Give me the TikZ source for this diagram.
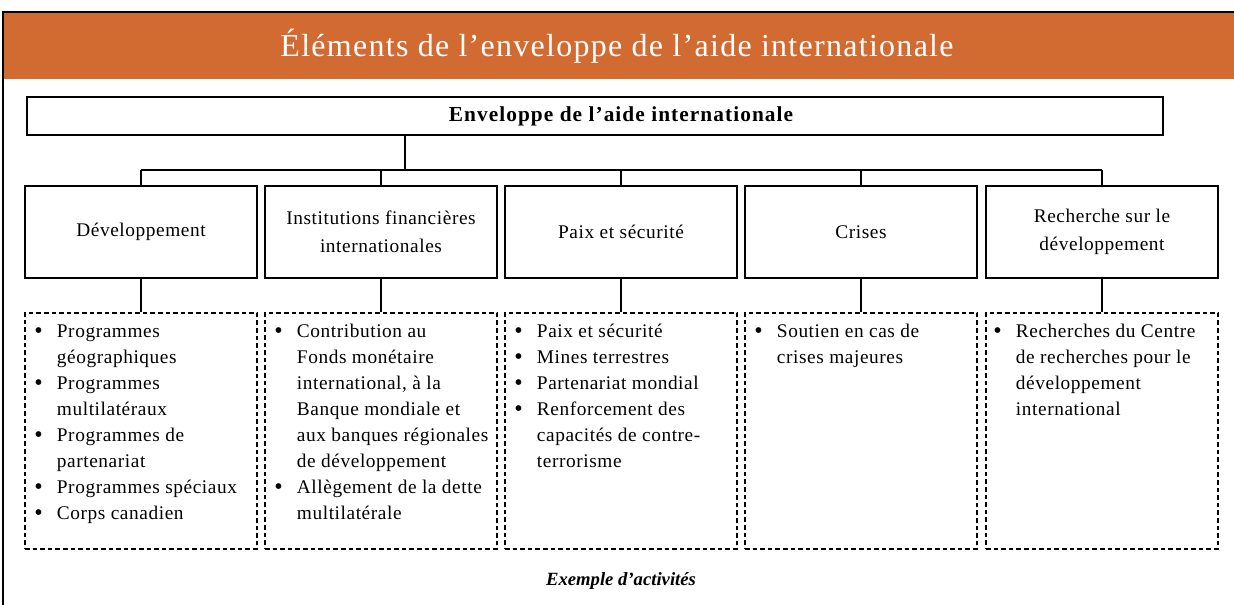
\documentclass[tikz,border=0pt]{standalone}
\usepackage{fontspec}
\setmainfont{Liberation Serif}
\newfontfamily\fcat[LetterSpace=3]{Liberation Serif}
\newfontfamily\ftop[LetterSpace=5]{Liberation Serif}
\newfontfamily\ftitle[LetterSpace=4]{Liberation Serif}
\definecolor{bannerorange}{RGB}{210,107,50}
\newcommand\bl{\raisebox{-0.8pt}{\fontsize{18}{19.5}\selectfont\textbullet}}
\tikzset{
  catbox/.style={draw=black, line width=1.5pt, minimum width=174pt, minimum height=69pt,
    inner sep=0pt, align=center, font=\fcat\fontsize{14.5}{21}\selectfont},
  actbox/.style={draw=black, line width=1.1pt, dash pattern=on 3.5pt off 2.2pt,
    minimum width=174pt, minimum height=177pt, inner sep=0pt},
  conn/.style={draw=black, line width=1.5pt},
  listtxt/.style={anchor=north west, inner sep=0pt, font=\fcat\fontsize{14.5}{19.5}\selectfont},
}
\begin{document}
\begin{tikzpicture}[x=0.75pt,y=-0.75pt]
\useasboundingbox (0,0) rectangle (1234,605);
\fill[white] (0,0) rectangle (1234,605);
\fill[bannerorange] (3,12) rectangle (1234,79);
\draw[line width=1.6pt] (3,605) -- (3,12) -- (1234,12);
\node[font=\ftitle\fontsize{24}{28}\selectfont, text=white, inner sep=0pt] (title) at (617,46)
  {Éléments de l’enveloppe de l’aide internationale};

% top box
\node[draw=black, line width=1.5pt, minimum width=852pt, minimum height=28.5pt, inner sep=0pt] (top) at (595,116) {};
\node[font=\ftop\bfseries\fontsize{16}{19}\selectfont, inner sep=0pt] (toplbl) at (621,116)
  {Enveloppe de l’aide internationale};

% categories
\node[catbox] (c1) at (141,232) {Développement};
\node[catbox] (c2) at (381,232) {Institutions financières\\internationales};
\node[catbox] (c3) at (621,232) {Paix et sécurité};
\node[catbox] (c4) at (861,232) {Crises};
\node[catbox] (c5) at (1102,232) {Recherche sur le\\développement};

% activity boxes
\node[actbox] (a1) at (141,431) {};
\node[actbox] (a2) at (381,431) {};
\node[actbox] (a3) at (621,431) {};
\node[actbox] (a4) at (861,431) {};
\node[actbox] (a5) at (1102,431) {};

% connectors
\coordinate (hub) at (405,170);
\draw[conn] (top.south -| hub) -- (hub);
\draw[conn] (c1.north |- hub) -- (c5.north |- hub);
\foreach \i in {1,...,5}{
  \draw[conn] (c\i.north |- hub) -- (c\i.north);
  \draw[conn] (c\i.south) -- (a\i.north);
}

% lists
\node[listtxt] (l1) at (34,319) {\begin{tabular}[t]{@{}p{17pt}@{}l@{}}
\bl & Programmes\\
 & géographiques\\
\bl & Programmes\\
 & multilatéraux\\
\bl & Programmes de\\
 & partenariat\\
\bl & Programmes spéciaux\\
\bl & Corps canadien
\end{tabular}};
\node[listtxt] (l2) at (274,319) {\begin{tabular}[t]{@{}p{17pt}@{}l@{}}
\bl & Contribution au\\
 & Fonds monétaire\\
 & international, à la\\
 & Banque mondiale et\\
 & aux banques régionales\\
 & de développement\\
\bl & Allègement de la dette\\
 & multilatérale
\end{tabular}};
\node[listtxt] (l3) at (514,319) {\begin{tabular}[t]{@{}p{17pt}@{}l@{}}
\bl & Paix et sécurité\\
\bl & Mines terrestres\\
\bl & Partenariat mondial\\
\bl & Renforcement des\\
 & capacités de contre-\\
 & terrorisme
\end{tabular}};
\node[listtxt] (l4) at (754,319) {\begin{tabular}[t]{@{}p{17pt}@{}l@{}}
\bl & Soutien en cas de\\
 & crises majeures
\end{tabular}};
\node[listtxt] (l5) at (993,319) {\begin{tabular}[t]{@{}p{17pt}@{}l@{}}
\bl & Recherches du Centre\\
 & de recherches pour le\\
 & développement\\
 & international
\end{tabular}};

\node[font=\bfseries\itshape\fontsize{14}{16}\selectfont, inner sep=0pt] (ex) at (621,581) {Exemple d’activités};
\end{tikzpicture}
\end{document}
